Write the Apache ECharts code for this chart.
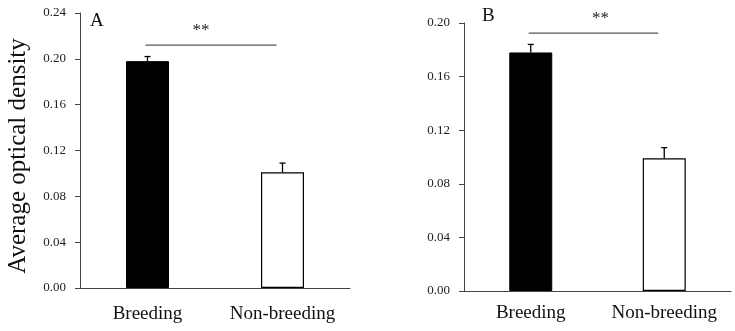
<!DOCTYPE html>
<html>
<head>
<meta charset="utf-8">
<script src="https://cdn.jsdelivr.net/npm/echarts@6/dist/echarts.min.js"></script>
<style>
  html, body { margin: 0; padding: 0; background: #fff; }
  #chart { width: 735px; height: 331px; }
</style>
</head>
<body>
<div id="chart"></div>
<script>
// data
const categories = ['Breeding', 'Non-breeding']
const meansA = [0.198, 0.101]
const errorsA = [0.004, 0.008]
const meansB = [0.178, 0.099]
const errorsB = [0.006, 0.008]
const sigA = 0.212 // height of the ** line
const sigB = 0.1925
const yTicksA = { max: 0.24, interval: 0.04 }
const yTicksB = { max: 0.20, interval: 0.04 }
const panelLabels = ['A', 'B']

const FONT = 'Liberation Serif, Times New Roman, serif'
const AXIS_COLOR = '#444'

const grids = [
  { left: 80, top: 13, width: 270, height: 275 },
  { left: 464, top: 23, width: 267, height: 268 }
]

function xAxisFor (idx, margin) {
  return {
    type: 'category',
    gridIndex: idx,
    data: categories,
    axisTick: { show: false },
    axisLine: { lineStyle: { color: AXIS_COLOR, width: 1 } },
    axisLabel: { color: '#111', fontFamily: FONT, fontSize: 19, margin: margin, interval: 0 }
  }
}

function yAxisFor (idx, ticks) {
  return {
    type: 'value',
    gridIndex: idx,
    min: 0,
    max: ticks.max,
    interval: ticks.interval,
    splitLine: { show: false },
    axisLine: { show: true, lineStyle: { color: AXIS_COLOR, width: 1 } },
    axisTick: { show: true, length: 5, lineStyle: { color: AXIS_COLOR } },
    axisLabel: {
      color: '#222',
      fontFamily: FONT,
      fontSize: 13,
      margin: 14,
      formatter: v => v.toFixed(2)
    }
  }
}

function barSeries (idx, means) {
  return {
    type: 'bar',
    xAxisIndex: idx,
    yAxisIndex: idx,
    barWidth: 43,
    silent: true,
    data: means.map((v, i) => ({
      value: v,
      itemStyle: i === 0
        ? { color: '#000', borderColor: '#000', borderWidth: 1 }
        : { color: '#fff', borderColor: '#000', borderWidth: 1.2 }
    }))
  }
}

function errorSeries (idx, means, errors) {
  return {
    type: 'custom',
    xAxisIndex: idx,
    yAxisIndex: idx,
    silent: true,
    z: 5,
    data: means.map((m, i) => [i, m, errors[i]]),
    renderItem (params, api) {
      const i = api.value(0)
      const m = api.value(1)
      const e = api.value(2)
      const base = api.coord([i, m])
      const top = api.coord([i, m + e])
      const style = { stroke: '#000', lineWidth: 1.3 }
      return {
        type: 'group',
        children: [
          { type: 'line', shape: { x1: base[0], y1: base[1], x2: top[0], y2: top[1] }, style },
          { type: 'line', shape: { x1: top[0] - 3, y1: top[1], x2: top[0] + 3, y2: top[1] }, style }
        ]
      }
    }
  }
}

// starShift: how far the ** sits from the middle of the line
function sigSeries (idx, level, starShift) {
  return {
    type: 'custom',
    xAxisIndex: idx,
    yAxisIndex: idx,
    silent: true,
    data: [[0, 1, level]],
    renderItem (params, api) {
      const a = api.coord([api.value(0), api.value(2)])
      const b = api.coord([api.value(1), api.value(2)])
      return {
        type: 'group',
        children: [
          {
            type: 'line',
            shape: { x1: a[0] - 2, y1: a[1], x2: b[0] - 6, y2: b[1] },
            style: { stroke: '#555', lineWidth: 1.3 }
          },
          {
            type: 'text',
            x: (a[0] + b[0]) / 2 + starShift,
            y: a[1] - 6,
            style: {
              text: '**',
              fill: '#222',
              font: '17px ' + FONT,
              align: 'center',
              verticalAlign: 'bottom'
            }
          }
        ]
      }
    }
  }
}

const chart = echarts.init(document.getElementById('chart'))

const option = {
  backgroundColor: '#fff',
  animation: false,
  grid: grids,
  xAxis: [xAxisFor(0, 17), xAxisFor(1, 13)],
  yAxis: [yAxisFor(0, yTicksA), yAxisFor(1, yTicksB)],
  graphic: [
    {
      type: 'text',
      left: 90,
      top: 12,
      style: { text: panelLabels[0], font: '19px ' + FONT, fill: '#111' }
    },
    {
      type: 'text',
      left: 482,
      top: 7,
      style: { text: panelLabels[1], font: '19px ' + FONT, fill: '#111' }
    },
    {
      type: 'text',
      x: 18,
      y: 156,
      rotation: Math.PI / 2,
      style: {
        text: 'Average optical density',
        font: '25px ' + FONT,
        fill: '#111',
        align: 'center',
        verticalAlign: 'middle'
      }
    }
  ],
  series: [
    barSeries(0, meansA),
    errorSeries(0, meansA, errorsA),
    sigSeries(0, sigA, -14),
    barSeries(1, meansB),
    errorSeries(1, meansB, errorsB),
    sigSeries(1, sigB, 3)
  ]
}

chart.setOption(option)
window.addEventListener('resize', () => chart.resize())
</script>
</body>
</html>
